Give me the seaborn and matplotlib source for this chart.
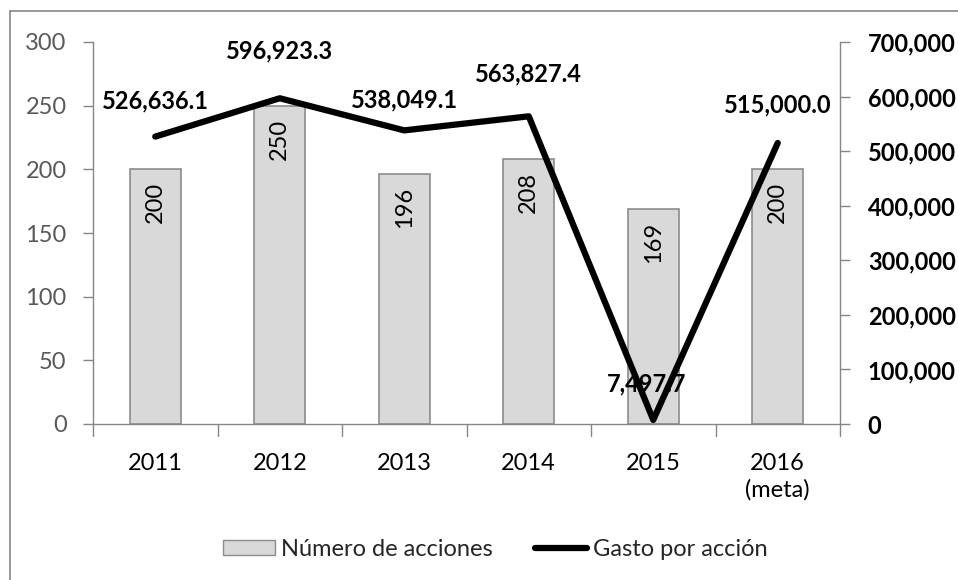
import numpy as np
import pandas as pd
import matplotlib
matplotlib.use("Agg")
import matplotlib.pyplot as plt
import seaborn as sns
from matplotlib.patches import Patch
from matplotlib.lines import Line2D

categories = ["2011", "2012", "2013", "2014", "2015", "2016\n(meta)"]
acciones = [200, 250, 196, 208, 169, 200]
gasto = [526636.1, 596923.3, 538049.1, 563827.4, 7497.7, 515000.0]
left_ticks = [0, 50, 100, 150, 200, 250, 300]
right_ticks = [0, 100000, 200000, 300000, 400000, 500000, 600000, 700000]

sns.set_theme(style="white")
plt.rcParams['font.family'] = ['Lato', 'DejaVu Sans']
FS = 17

fig = plt.figure(figsize=(9.58, 5.80), dpi=100)
ax = fig.add_axes([93/958, 1 - 424/580, (840 - 93)/958, (424 - 42)/580])

df = pd.DataFrame({"cat": categories, "acciones": acciones, "gasto": gasto})
sns.barplot(data=df, x="cat", y="acciones", ax=ax, color="#d9d9d9",
            edgecolor="#8c8c8c", linewidth=1.2, width=0.41, saturation=1)
ax.set_xlim(-0.5, 5.5)
ax.set_ylim(0, 300)
ax.set_yticks(left_ticks)
ax.set_xlabel("")
ax.set_ylabel("")

GRAY = "#868686"
for s in ["top", "right"]:
    ax.spines[s].set_visible(False)
for s in ["left", "bottom"]:
    ax.spines[s].set_color(GRAY)
    ax.spines[s].set_linewidth(1.0)
ax.tick_params(axis="y", direction="out", length=7, color=GRAY, width=1,
               labelsize=FS, labelcolor="#595959", pad=12, left=True)
ax.tick_params(axis="x", length=0, labelsize=FS, labelcolor="black", pad=21)
ax.set_xticks(np.arange(6))
ax.set_xticklabels(categories, linespacing=1.3)
for b in np.arange(-0.5, 6.0, 1.0):
    ax.plot([b, b], [0, -0.032], transform=ax.get_xaxis_transform(),
            color=GRAY, lw=1, clip_on=False)

for i, v in enumerate(acciones):
    ax.text(i, v - 10, str(v), rotation=90, ha="center", va="top",
            fontsize=FS, color="black")

ax2 = ax.twinx()
sns.lineplot(x=np.arange(6), y=gasto, ax=ax2, color="black", lw=4.5, legend=False)
ax2.set_ylim(0, 700000)
ax2.set_xlim(-0.5, 5.5)
ax2.set_yticks(right_ticks)
ax2.set_yticklabels([f"{t:,}" for t in right_ticks], fontweight="bold")
for s in ["top", "left", "bottom"]:
    ax2.spines[s].set_visible(False)
ax2.spines["right"].set_color(GRAY)
ax2.spines["right"].set_linewidth(1.0)
ax2.tick_params(axis="y", direction="out", length=7, color=GRAY, width=1,
                labelsize=FS, labelcolor="black", pad=13, right=True)
ax2.set_ylabel("")

offsets = [36, 47, 30, 42, 36, 38]
xshift = [0, 0, 0, 0, -0.05, 0]
for i, v in enumerate(gasto):
    ax2.annotate(f"{v:,.1f}", (i + xshift[i], v), xytext=(0, offsets[i]),
                 textcoords="offset pixels", ha="center", va="center",
                 fontsize=FS, fontweight="bold", color="black")

handles = [Patch(facecolor="#d9d9d9", edgecolor="#8c8c8c", label="Número de acciones"),
           Line2D([0], [0], color="black", lw=4.5, label="Gasto por acción")]
fig.legend(handles=handles, loc="center", bbox_to_anchor=(495/958, 1 - 549/580),
           ncol=2, frameon=False, fontsize=FS, handlelength=2.2, handletextpad=0.25,
           columnspacing=1.8, handleheight=0.6)

# outer chart frame (partially visible)
fig.add_artist(Line2D([10/958, 10/958], [0, 1 - 11/580], color="#878787", lw=1.2,
                      transform=fig.transFigure))
fig.add_artist(Line2D([10/958, 1], [1 - 11/580, 1 - 11/580], color="#878787", lw=1.2,
                      transform=fig.transFigure))

fig.savefig("out.png", dpi=100)
